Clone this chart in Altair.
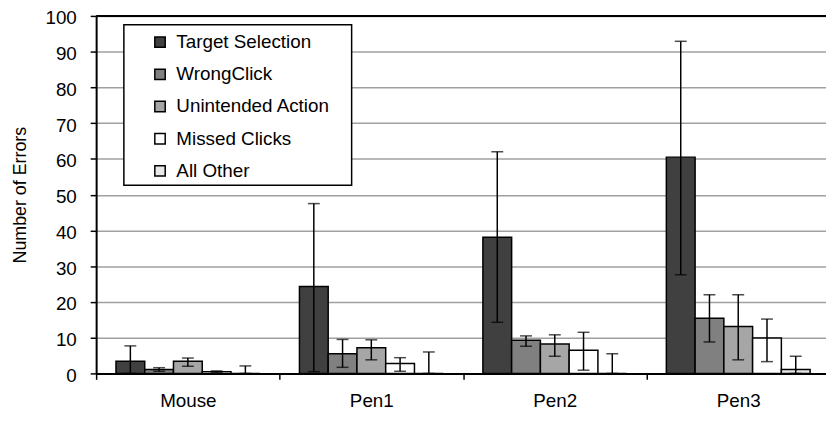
import altair as alt
import pandas as pd

categories = ["Mouse", "Pen1", "Pen2", "Pen3"]
series = ["Target Selection", "WrongClick", "Unintended Action", "Missed Clicks", "All Other"]
colors = ["#404040", "#808080", "#a6a6a6", "#ffffff", "#e8e8e8"]
y_ticks = [0, 10, 20, 30, 40, 50, 60, 70, 80, 90, 100]

# mean values per series (rows) for each category (columns)
values = {
    "Target Selection": [3.4, 24.3, 38.1, 60.5],
    "WrongClick": [1.1, 5.5, 9.3, 15.4],
    "Unintended Action": [3.4, 7.2, 8.2, 13.1],
    "Missed Clicks": [0.5, 2.8, 6.5, 9.9],
    "All Other": [0.0, 0.0, 0.0, 1.1],
}
err_low = {
    "Target Selection": [0.0, 0.5, 14.3, 27.6],
    "WrongClick": [0.6, 1.7, 7.6, 8.8],
    "Unintended Action": [2.0, 3.8, 4.8, 3.8],
    "Missed Clicks": [0.3, 0.6, 0.9, 3.3],
    "All Other": [0.0, 0.0, 0.0, 0.0],
}
err_high = {
    "Target Selection": [7.7, 47.5, 62.0, 92.9],
    "WrongClick": [1.6, 9.5, 10.5, 22.0],
    "Unintended Action": [4.3, 9.4, 10.8, 22.0],
    "Missed Clicks": [0.7, 4.4, 11.5, 15.2],
    "All Other": [2.1, 6.0, 5.5, 4.8],
}

rows = []
for s in series:
    for i, c in enumerate(categories):
        rows.append({"Device": c, "Type": s, "Errors": values[s][i],
                     "Low": err_low[s][i], "High": err_high[s][i]})
df = pd.DataFrame(rows)

FONT = "Liberation Sans"
W, H = 737, 361
YTITLE = "Number of Errors"

yscale = alt.Scale(domain=[0, 100], nice=False)
y_axis = alt.Axis(values=y_ticks, labelFontSize=19, labelFont=FONT,
                  labelColor="black", titleFont=FONT, titleFontSize=18,
                  titleFontWeight="normal", titleColor="black", titlePadding=16,
                  domainColor="black", domainWidth=2, tickColor="black",
                  tickWidth=1.5, tickSize=6, labelPadding=14, labelOverlap=False,
                  labelOffset=2, grid=True, gridColor="#a0a0a0", gridWidth=1.5)

x_axis = alt.Axis(labelAngle=0, labelFontSize=19, labelFont=FONT, labelColor="black",
                  domainColor="black", domainWidth=2, tickColor="black", tickWidth=1.5,
                  tickSize=6, tickBand="extent", labelPadding=12)
x_scale = alt.Scale(paddingInner=0, paddingOuter=0, range=[0, 741])
x_enc = alt.X("Device:N", sort=categories, title=None, scale=x_scale, axis=x_axis)
xoff = alt.XOffset("Type:N", sort=series, scale=alt.Scale(paddingOuter=0.69, paddingInner=0))

base = alt.Chart(df)

bars = base.mark_bar(stroke="black", strokeWidth=1.5).encode(
    x=x_enc,
    xOffset=xoff,
    y=alt.Y("Errors:Q", scale=yscale, title=YTITLE, axis=y_axis),
    fill=alt.Fill("Type:N", sort=series, scale=alt.Scale(domain=series, range=colors),
                  legend=alt.Legend(title=None, orient="none", legendX=55, legendY=17,
                                    symbolType="square", symbolSize=110,
                                    symbolStrokeColor="black", symbolStrokeWidth=1.5,
                                    labelFont=FONT, labelFontSize=19, labelColor="black",
                                    labelOffset=7, rowPadding=12.5, labelLimit=300)),
)

rules = base.mark_rule(color="black", strokeWidth=1.5).encode(
    x=x_enc, xOffset=xoff,
    y=alt.Y("Low:Q", scale=yscale, title=YTITLE, axis=y_axis), y2="High:Q",
)
caps_hi = base.mark_tick(color="black", thickness=1.5, size=12, orient="horizontal").encode(
    x=x_enc, xOffset=xoff,
    y=alt.Y("High:Q", scale=yscale, title=YTITLE, axis=y_axis))
caps_lo = base.mark_tick(color="black", thickness=1.5, size=12, orient="horizontal").encode(
    x=x_enc, xOffset=xoff,
    y=alt.Y("Low:Q", scale=yscale, title=YTITLE, axis=y_axis))

top_df = pd.DataFrame({"y": [100]})
top_line = alt.Chart(top_df).mark_rule(color="black", strokeWidth=2).encode(
    y=alt.Y("y:Q", scale=yscale, title=YTITLE, axis=y_axis))

frame = alt.Chart(top_df).mark_rect(fill="white", stroke="black", strokeWidth=1.5).encode(
    x=alt.value(28), x2=alt.value(258), y=alt.value(9), y2=alt.value(171))

chart = alt.layer(bars, rules, caps_hi, caps_lo, top_line, frame).properties(
    width=W, height=H,
    autosize=alt.AutoSizeParams(type="none"),
    padding={"left": 89, "top": 6, "right": 0, "bottom": 40},
).configure_view(stroke=None).configure(background="white")

chart.save("out.html", embed_options={"renderer": "svg", "actions": False})
